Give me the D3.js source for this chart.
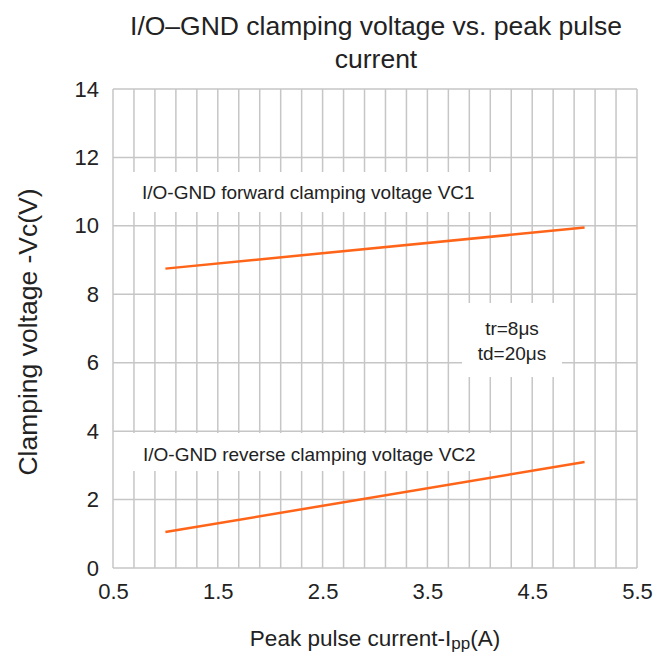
<!DOCTYPE html>
<html><head><meta charset="utf-8">
<script src="https://cdn.jsdelivr.net/npm/d3@7"></script>
<style>body{margin:0;background:#fff}svg{display:block}text{font-family:"Liberation Sans",Arial,sans-serif;fill:#222}</style>
</head><body>
<svg id="c" width="671" height="654"></svg>
<script>
const xTicks = [0.5, 1.5, 2.5, 3.5, 4.5, 5.5];
const yTicks = [0, 2, 4, 6, 8, 10, 12, 14];
const forwardI = [1.0, 5.0];
const forwardV = [8.75, 9.95];
const reverseI = [1.0, 5.0];
const reverseV = [1.05, 3.1];
const titleLines = ["I/O\u2013GND clamping voltage vs. peak pulse", "current"];
const forwardLabel = "I/O-GND forward clamping voltage VC1";
const reverseLabel = "I/O-GND reverse clamping voltage VC2";
const pulseLabels = ["tr=8\u03bcs", "td=20\u03bcs"];

const svg = d3.select("#c");
const m = {l:113, r:637, t:89, b:568};
const x = d3.scaleLinear().domain([0.5, 5.5]).range([m.l, m.r]);
const y = d3.scaleLinear().domain([0, 14]).range([m.b, m.t]);

const grid = svg.append("g").attr("stroke", "#c6c6c6").attr("stroke-width", 1.5);
const vx = d3.range(0, 26).map(i => 0.5 + i * 0.2);
grid.selectAll("line.v").data(vx).enter().append("line")
  .attr("x1", d => x(d)).attr("x2", d => x(d)).attr("y1", m.t).attr("y2", m.b);
grid.selectAll("line.h").data(yTicks).enter().append("line")
  .attr("y1", d => y(d)).attr("y2", d => y(d)).attr("x1", m.l).attr("x2", m.r);

// white label boxes
function box(x0, y0, x1, y1) {
  svg.append("rect").attr("x", x0).attr("y", y0).attr("width", x1 - x0).attr("height", y1 - y0).attr("fill", "#fff");
}
box(121, 172, 500, 212);
box(121, 433, 500, 471);
box(462, 303, 562, 377);

// axes (tick labels only)
const yAxis = d3.axisLeft(y).tickValues(yTicks).tickSize(0).tickPadding(14).tickFormat(d3.format("d"));
const gy = svg.append("g").attr("transform", `translate(${m.l},0)`).call(yAxis);
gy.select(".domain").remove();
gy.selectAll("text").style("font-size", "22px").attr("fill", "#222");

const xAxis = d3.axisBottom(x).tickValues(xTicks).tickSize(0).tickPadding(15).tickFormat(d3.format(".1f"));
const gx = svg.append("g").attr("transform", `translate(0,${m.b})`).call(xAxis);
gx.select(".domain").remove();
gx.selectAll("text").style("font-size", "22px").attr("fill", "#222");

// series
const line = d3.line().x(d => x(d[0])).y(d => y(d[1]));
[[forwardI, forwardV], [reverseI, reverseV]].forEach(([xs, ys]) => {
  svg.append("path").datum(xs.map((v, i) => [v, ys[i]]))
    .attr("d", line).attr("fill", "none").attr("stroke", "#ff6418").attr("stroke-width", 2.5);
});

// labels
svg.append("text").attr("x", 142).attr("y", 199).style("font-size", "19px").text(forwardLabel);
svg.append("text").attr("x", 143).attr("y", 461).style("font-size", "19px").text(reverseLabel);
pulseLabels.forEach((t, i) => svg.append("text").attr("x", 512).attr("y", 335 + i * 25)
  .attr("text-anchor", "middle").style("font-size", "19px").text(t));

// title
titleLines.forEach((t, i) => svg.append("text").attr("x", 376).attr("y", 35 + i * 33)
  .attr("text-anchor", "middle").style("font-size", "26.5px").text(t));

// axis titles
const xt = svg.append("text").attr("x", 375).attr("y", 646).attr("text-anchor", "middle").style("font-size", "22.5px");
xt.append("tspan").text("Peak pulse current-I");
xt.append("tspan").attr("dy", 3).style("font-size", "17px").text("pp");
xt.append("tspan").attr("dy", -3).text("(A)");
svg.append("text").attr("transform", "translate(37,332) rotate(-90)").attr("text-anchor", "middle")
  .style("font-size", "26.5px").text("Clamping voltage -Vc(V)");
</script>
</body></html>
